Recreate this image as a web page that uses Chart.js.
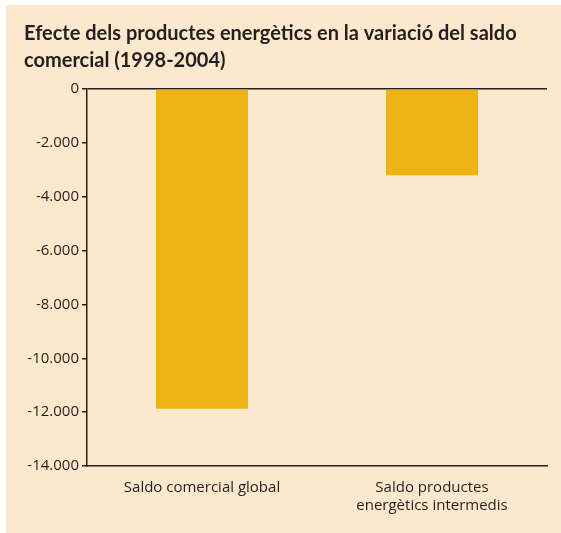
<!DOCTYPE html>
<html>
<head>
<meta charset="utf-8">
<script src="https://cdn.jsdelivr.net/npm/chart.js@4.4.1/dist/chart.umd.min.js"></script>
<style>
  html, body { margin: 0; padding: 0; background: #ffffff; }
  #wrap { position: relative; width: 561px; height: 533px; }
  canvas { display: block; }
</style>
</head>
<body>
<div id="wrap"><canvas id="chart" width="561" height="533"></canvas></div>
<script>
(function () {
    var titleLines = ['Efecte dels productes energètics en la variació del saldo', 'comercial (1998-2004)'];
    var categories = [['Saldo comercial global'], ['Saldo productes', 'energètics intermedis']];
    var values = [-11870, -3200];
    var yTicks = [0, -2000, -4000, -6000, -8000, -10000, -12000, -14000];

    var INK = '#231f20';

    function fmt(v) {
        var s = Math.abs(v).toString();
        if (s.length > 3) s = s.slice(0, s.length - 3) + '.' + s.slice(s.length - 3);
        return (v < 0 ? '-' : '') + s;
    }

    // panel background, leaves a thin white margin at top and left
    var panel = {
        id: 'panel',
        beforeDraw: function (chart) {
            var c = chart.ctx;
            c.save();
            c.fillStyle = '#fce9cd';
            c.fillRect(6, 5, chart.width - 6, chart.height - 5);
            c.restore();
        }
    };

    new Chart(document.getElementById('chart').getContext('2d'), {
        type: 'bar',
        data: {
            labels: categories,
            datasets: [{
                data: values,
                backgroundColor: '#efb314',
                borderWidth: 0,
                barPercentage: 0.4,
                categoryPercentage: 1
            }]
        },
        options: {
            responsive: false,
            animation: false,
            layout: { padding: { top: 20, left: 24, right: 14, bottom: 0 } },
            plugins: {
                legend: { display: false },
                tooltip: { enabled: false },
                title: {
                    display: true,
                    text: titleLines,
                    align: 'start',
                    color: INK,
                    font: { family: 'Lato', size: 20, weight: 'bold', lineHeight: 1.35 },
                    padding: { top: 0, bottom: 15 }
                }
            },
            scales: {
                x: {
                    grid: { display: false },
                    border: { display: true, color: INK, width: 1.5 },
                    ticks: {
                        color: INK,
                        padding: 5,
                        font: { family: 'Open Sans', size: 15, lineHeight: 1.2 }
                    },
                    afterFit: function (scale) { scale.height = 67; }
                },
                y: {
                    min: -14000,
                    max: 0,
                    afterBuildTicks: function (scale) {
                        scale.ticks = yTicks.map(function (v) { return { value: v }; });
                    },
                    grid: {
                        color: function (ctx) { return ctx.tick && ctx.tick.value === 0 ? INK : 'rgba(0,0,0,0)'; },
                        tickColor: INK,
                        tickLength: 5,
                        lineWidth: 1.5
                    },
                    border: { display: true, color: INK, width: 1.5 },
                    ticks: {
                        color: INK,
                        padding: 3,
                        font: { family: 'Open Sans', size: 15 },
                        callback: function (v) { return fmt(v); }
                    },
                    afterFit: function (scale) { scale.width = 63; }
                }
            }
        },
        plugins: [panel]
    });
})();
</script>
</body>
</html>
